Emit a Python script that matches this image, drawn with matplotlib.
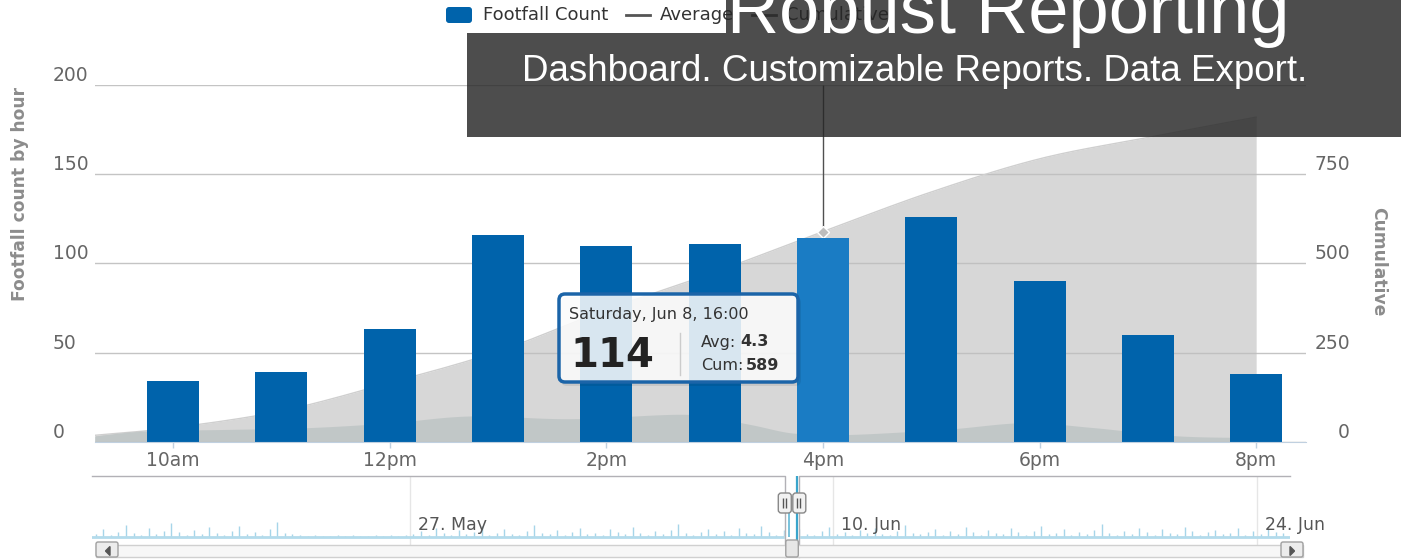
import matplotlib
matplotlib.use("Agg")
import matplotlib.pyplot as plt
import numpy as np
from matplotlib.patches import FancyBboxPatch, Rectangle, Polygon
from matplotlib import transforms

plt.rcParams['font.family'] = ['DejaVu Sans']

# hourly footfall on Saturday, Jun 8
hours = [10, 11, 12, 13, 14, 15, 16, 17, 18, 19, 20]
footfall = [34, 39, 63, 116, 110, 111, 114, 126, 90, 60, 38]
hour_ticks = [10, 12, 14, 16, 18, 20]
hour_labels = ["10am", "12pm", "2pm", "4pm", "6pm", "8pm"]
hover_hour = 16

# cumulative (right axis)
cum_x = [9.28, 10, 11, 12, 13, 14, 15, 16, 17, 18, 19, 20]
cum = [18, 39, 86, 165, 253, 370, 475, 589, 700, 793, 853, 910]

# average (own hidden scale)
avg_x = [9.27, 9.73, 10.5, 11.25, 12.0, 12.75, 13.68, 14.76, 15.3, 15.7, 16.0,
         16.28, 17.14, 17.86, 18.5, 19.29, 20.22]
avg = [2.9, 5.4, 6.2, 7.1, 9.5, 13.0, 11.6, 13.8, 9.0, 4.5, 4.3, 3.7, 6.3, 9.6,
       7.1, 2.9, 2.0]

# navigator: days relative to 27 May, one value per quarter day
nav_start = -10.375
nav_vals = [3, 8, 2, 5, 12, 4, 2, 9, 3, 6, 14, 5, 2, 7, 3, 10, 4, 2, 6, 11, 3, 5, 2, 8, 15, 4, 3,
            2, 1, 2, 1, 1, 2, 1, 2, 1, 1, 2, 1, 2, 1, 2,
            3, 6, 2, 9, 4, 2, 7, 3, 5, 11, 2, 4, 8, 3, 2, 6, 12, 4, 3, 7, 2, 5, 9, 3, 4,
            2, 8, 5, 3, 10, 4, 2, 6, 3, 7, 13, 4, 2, 5, 8, 3, 6, 2, 9, 4, 3, 11, 5, 2, 7,
            4, 8, 3, 2, 6, 10, 3, 5, 2, 7, 4, 9, 3, 2, 6, 12, 4, 3, 5, 8, 2, 6, 3, 10, 5,
            2, 7, 4, 3, 9, 5, 2, 6, 11, 3, 4, 8, 2, 5, 3, 7, 13, 4, 2, 6, 3, 9, 5, 2, 8,
            4, 3, 10, 6, 2, 5, 7, 3, 4, 9, 2, 6, 3, 8, 5, 4]
nav_ticks = [0, 14, 28]
nav_labels = ["27. May", "10. Jun", "24. Jun"]
sel_start, sel_end = 12.4, 12.88

BAR = "#0063ab"
BAR_HOVER = "#1a7cc4"
W, H = 1401, 559


def px_rect(x0, y0, x1, y1):
    return [x0 / W, 1 - y1 / H, (x1 - x0) / W, (y1 - y0) / H]


def smooth(xs, ys, n=16):
    # catmull-rom curve through the points, only for drawing
    xs = np.asarray(xs, float)
    ys = np.asarray(ys, float)
    px = np.concatenate([[2 * xs[0] - xs[1]], xs, [2 * xs[-1] - xs[-2]]])
    py = np.concatenate([[2 * ys[0] - ys[1]], ys, [2 * ys[-1] - ys[-2]]])
    t = np.linspace(0, 1, n, endpoint=False)[:, None]
    out = []
    for i in range(1, len(px) - 2):
        p = np.array([[px[i - 1], py[i - 1]], [px[i], py[i]],
                      [px[i + 1], py[i + 1]], [px[i + 2], py[i + 2]]])
        seg = 0.5 * ((2 * p[1]) + (-p[0] + p[2]) * t
                     + (2 * p[0] - 5 * p[1] + 4 * p[2] - p[3]) * t ** 2
                     + (-p[0] + 3 * p[1] - 3 * p[2] + p[3]) * t ** 3)
        out.append(seg)
    out.append([[xs[-1], ys[-1]]])
    out = np.vstack(out)
    return out[:, 0], out[:, 1]


fig = plt.figure(figsize=(14.01, 5.59), dpi=100)
rect = px_rect(95, 85, 1306, 441.7)
ax_cum = fig.add_axes(rect)
ax_avg = fig.add_axes(rect)
ax = fig.add_axes(rect)
xlim = (9.28, 20.46)

# cumulative, right axis
sx, sy = smooth(cum_x, cum)
ax_cum.fill_between(sx, 0, sy, color="#bfbfbf", alpha=0.62, lw=0, zorder=1)
ax_cum.plot(sx, sy, color="#cfcfcf", lw=1, zorder=1.1)
ax_cum.set_xlim(*xlim)
ax_cum.set_ylim(0, 1000)
ax_cum.set_yticks([0, 250, 500, 750, 1000])
ax_cum.set_yticklabels(["0", "250", "500", "750", ""])
ax_cum.yaxis.tick_right()
ax_cum.set_xticks([])
ax_cum.grid(axis="y", color="#c4c4c4", lw=1)
ax_cum.set_axisbelow(True)
ax_cum.tick_params(axis="y", length=0, pad=31.5, labelsize=13.5, labelcolor="#666666")
for lab in ax_cum.get_yticklabels():
    lab.set_ha("right")
    lab.set_va("bottom")
ax_cum.yaxis.set_label_position("right")
ax_cum.set_ylabel("Cumulative", rotation=270, color="#8c8c8c", fontsize=12.3,
                  fontweight="bold", va="center")
ax_cum.yaxis.set_label_coords(1.0594, 0.504)
for s in ax_cum.spines.values():
    s.set_visible(False)

# crosshair and hover marker at 4pm
cum_hover = cum[cum_x.index(hover_hour)]
ax_cum.vlines(hover_hour, cum_hover, 1000, color="#505050", lw=1, zorder=1.2)
ax_cum.plot([hover_hour], [cum_hover], marker="D", ms=6, color="#bdbdbd",
            mec="white", mew=1, zorder=1.3)

# average, hidden scale
ax_avg.set_facecolor("none")
ax_avg.set_xlim(*xlim)
ax_avg.set_ylim(0, 180)
ax_avg.axis("off")
ax2x, ax2y = smooth(avg_x, avg)
ax_avg.fill_between(ax2x, 0, ax2y, color="#b2bcbc", alpha=0.58, lw=0)

# bars, left axis
ax.set_facecolor("none")
colors = [BAR_HOVER if h == hover_hour else BAR for h in hours]
ax.bar(hours, footfall, width=0.48, color=colors, zorder=3)
ax.set_xlim(*xlim)
ax.set_ylim(0, 200)
ax.set_yticks([0, 50, 100, 150, 200])
ax.tick_params(axis="y", length=0, pad=30.2, labelsize=13.5, labelcolor="#666666")
for lab in ax.get_yticklabels():
    lab.set_ha("left")
    lab.set_va("bottom")
ax.set_xticks(hour_ticks)
ax.set_xticklabels(hour_labels)
ax.tick_params(axis="x", length=4, width=1, color="#c0d0e0", pad=2.5,
               labelsize=13.5, labelcolor="#666666")
for side in ["top", "left", "right"]:
    ax.spines[side].set_visible(False)
ax.spines["bottom"].set_color("#c0d0e0")
ax.spines["bottom"].set_zorder(4)
ax.set_ylabel("Footfall count by hour", color="#8c8c8c", fontsize=12.3,
              fontweight="bold", va="center")
ax.yaxis.set_label_coords(-0.062, 0.694)

# navigator
ax_nav = fig.add_axes(px_rect(92, 476, 1290, 545))
nav_days = nav_start + 0.25 * np.arange(len(nav_vals))
ax_nav.set_xlim(-10.5, 29.1)
ax_nav.set_ylim(-8, 61)
ax_nav.vlines(nav_days, 0, nav_vals, color="#a6d5e9", lw=1)
ax_nav.axhline(0, color="#b3dbeb", lw=2)
for d in nav_ticks:
    ax_nav.axvline(d, color="#e6e6e6", lw=1, zorder=0)
lab_tr = transforms.offset_copy(ax_nav.get_xaxis_transform(), fig=fig, x=8, y=0, units="dots")
for d, lab in zip(nav_ticks, nav_labels):
    ax_nav.text(d, 0.29, lab, transform=lab_tr, ha="left", va="center",
                fontsize=12.5, color="#555555")
ax_nav.axvspan(sel_start, sel_end, color="white", zorder=2)
ax_nav.vlines([sel_start + 0.3 * (sel_end - sel_start)], 0, 40, color="#62b8d6", lw=1.2, zorder=3)
ax_nav.vlines([sel_end - 0.15 * (sel_end - sel_start)], -8, 61, color="#3aa5cc", lw=1.6, zorder=3)
xtr = ax_nav.get_xaxis_transform()
ax_nav.plot([-10.5, sel_start, sel_start], [1, 1, -0.17], transform=xtr,
            color="#b2b1b6", lw=1, clip_on=False, zorder=4)
ax_nav.plot([sel_end, sel_end, 29.1], [-0.17, 1, 1], transform=xtr,
            color="#b2b1b6", lw=1, clip_on=False, zorder=4)
ax_nav.set_xticks([])
ax_nav.set_yticks([])
for s in ax_nav.spines.values():
    s.set_visible(False)

# overlay in pixel coordinates for chrome (legend, tooltip, scrollbar, banner)
ov = fig.add_axes([0, 0, 1, 1], zorder=10)
ov.set_xlim(0, W)
ov.set_ylim(H, 0)
ov.axis("off")
ov.set_facecolor("none")

fig.canvas.draw()
hx0 = ax_nav.transData.transform((sel_start, 0))[0]
hx1 = ax_nav.transData.transform((sel_end, 0))[0]

# scrollbar
ov.add_patch(Rectangle((96, 545), 1207, 12, facecolor="#f7f7f7", edgecolor="#d0d0d0", lw=1, zorder=1))
for bx, tri in [(96, [(110, 546.5), (110, 555.5), (105.5, 551)]),
                (1281, [(1290, 546.5), (1290, 555.5), (1294.5, 551)])]:
    ov.add_patch(FancyBboxPatch((bx, 542), 22, 15, boxstyle="round,pad=0,rounding_size=2",
                                facecolor="#ececec", edgecolor="#a0a0a0", lw=1, zorder=2))
    ov.add_patch(Polygon(tri, closed=True, color="#555555", zorder=3))
ov.add_patch(FancyBboxPatch((hx0 + 1, 540), hx1 - hx0 - 2, 17,
                            boxstyle="round,pad=0,rounding_size=2",
                            facecolor="#e6e6e6", edgecolor="#a0a0a0", lw=1, zorder=2))
# handles
for cx in [hx0, hx1]:
    ov.add_patch(FancyBboxPatch((cx - 6.5, 493), 13, 20, boxstyle="round,pad=0,rounding_size=3",
                                facecolor="#f2f2f2", edgecolor="#888888", lw=1, zorder=3))
    ov.vlines([cx - 2, cx + 1], 498, 508, color="#555555", lw=1, zorder=4)

# legend
ov.add_patch(FancyBboxPatch((446, 7), 26, 16, boxstyle="round,pad=0,rounding_size=3",
                            facecolor=BAR, edgecolor="none", zorder=1))
ov.text(483, 15, "Footfall Count", fontsize=13, color="#333333", va="center", ha="left", zorder=1)
ov.plot([626, 650], [15, 15], color="#555555", lw=2, zorder=1)
ov.text(660, 15, "Average", fontsize=13, color="#333333", va="center", ha="left", zorder=1)
ov.plot([752, 776], [15, 15], color="#555555", lw=2, zorder=1)
ov.text(786, 15, "Cumulative", fontsize=13, color="#333333", va="center", ha="left", zorder=1)

# banner
ov.add_patch(Rectangle((726, 0), W - 726, 33, facecolor="#262626", alpha=0.82, lw=0, zorder=5))
ov.add_patch(Rectangle((467, 33), W - 467, 104, facecolor="#262626", alpha=0.82, lw=0, zorder=5))
ov.text(1008, 33, "Robust Reporting", family="Liberation Sans", fontsize=52,
        color="white", ha="center", va="baseline", zorder=6)
ov.text(915, 81, "Dashboard. Customizable Reports. Data Export.", family="Liberation Sans",
        fontsize=26.5, color="white", ha="center", va="baseline", zorder=6)

# tooltip
ov.add_patch(FancyBboxPatch((561, 297), 240, 89, boxstyle="round,pad=0,rounding_size=6",
                            facecolor="black", alpha=0.08, lw=0, zorder=6))
ov.add_patch(FancyBboxPatch((559, 294), 239, 88, boxstyle="round,pad=0,rounding_size=6",
                            facecolor="white", alpha=0.85, edgecolor="none", zorder=7))
ov.add_patch(FancyBboxPatch((559, 294), 239, 88, boxstyle="round,pad=0,rounding_size=6",
                            facecolor="none", edgecolor="#1b64a8", lw=2.5, zorder=8))
ov.text(569, 314, "Saturday, Jun 8, 16:00", fontsize=11.5, color="#333333",
        ha="left", va="center", zorder=9)
ov.text(570, 356, "114", fontsize=29, fontweight="bold", color="#222222",
        ha="left", va="center", zorder=9)
ov.plot([680, 680], [333, 375], color="#cccccc", lw=1, zorder=9)
ov.text(701, 342, "Avg:", fontsize=11.5, color="#333333", ha="left", va="center", zorder=9)
ov.text(740, 342, "4.3", fontsize=11.5, fontweight="bold", color="#333333", ha="left", va="center", zorder=9)
ov.text(701, 365, "Cum:", fontsize=11.5, color="#333333", ha="left", va="center", zorder=9)
ov.text(746, 365, "589", fontsize=11.5, fontweight="bold", color="#333333", ha="left", va="center", zorder=9)

fig.savefig("out.png", dpi=100)
